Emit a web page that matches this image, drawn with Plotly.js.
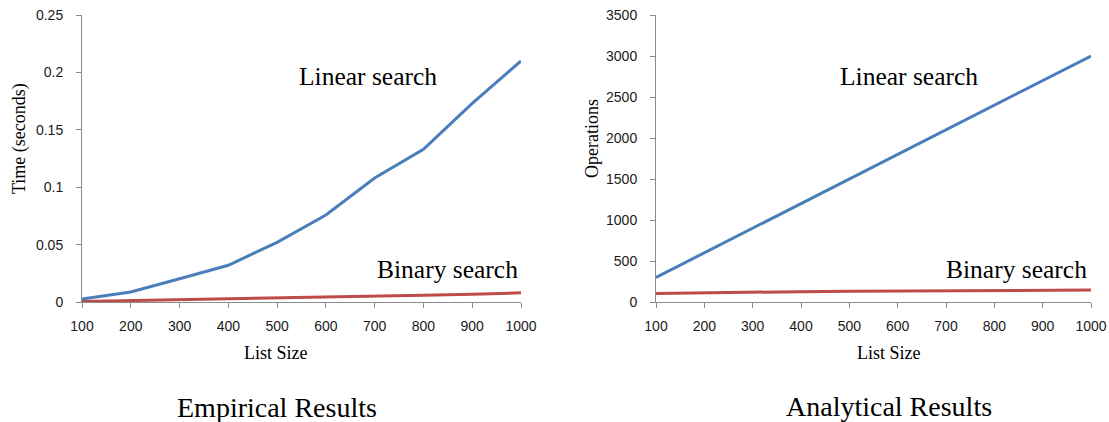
<!DOCTYPE html>
<html>
<head>
<meta charset="utf-8">
<script src="https://cdn.plot.ly/plotly-3.0.1.min.js"></script>
<style>
html,body{margin:0;padding:0;background:#fff;}
#chart{width:1109px;height:422px;}
</style>
</head>
<body>
<div id="chart"></div>
<script>
// Data
const listSizes = [100, 200, 300, 400, 500, 600, 700, 800, 900, 1000];
const empiricalLinear = [0.0026, 0.0087, 0.0203, 0.032, 0.052, 0.0758, 0.108, 0.133, 0.173, 0.21];
const empiricalBinary = [0.0005, 0.0012, 0.0018, 0.0024, 0.0032, 0.004, 0.0048, 0.0058, 0.0068, 0.008];
const analyticalLinear = [300, 600, 900, 1200, 1500, 1800, 2100, 2400, 2700, 3000];
const analyticalBinary = [105, 115, 121, 126, 130, 133, 136, 139, 142, 145];

const blue = '#4a7ebb';
const red = '#be4b48';
const W = 1109, H = 422;
const px = v => v / W;
const py = v => 1 - v / H;

const traces = [
  {x: listSizes, y: empiricalBinary, xaxis: 'x', yaxis: 'y', mode: 'lines', line: {color: red, width: 3}, name: 'Binary search'},
  {x: listSizes, y: empiricalLinear, xaxis: 'x', yaxis: 'y', mode: 'lines', line: {color: blue, width: 3}, name: 'Linear search'},
  {x: listSizes, y: analyticalBinary, xaxis: 'x2', yaxis: 'y2', mode: 'lines', line: {color: red, width: 3}, name: 'Binary search'},
  {x: listSizes, y: analyticalLinear, xaxis: 'x2', yaxis: 'y2', mode: 'lines', line: {color: blue, width: 3}, name: 'Linear search'}
];

const tickFont = {family: 'Liberation Sans, Arial, sans-serif', size: 14, color: '#1a1a1a'};
const axisCommon = {
  showgrid: false, zeroline: false, showline: true, linecolor: '#8c8c8c', linewidth: 1,
  ticks: 'outside', ticklen: 5, tickcolor: '#8c8c8c', tickfont: tickFont, fixedrange: true
};

const serif = 'Liberation Serif, Times New Roman, serif';
const ann = (text, x, y, size, angle) => ({
  text: text, xref: 'paper', yref: 'paper', x: px(x), y: py(y),
  xanchor: 'center', yanchor: 'middle', showarrow: false,
  textangle: angle || 0, font: {family: serif, size: size, color: '#000'}
});

const layout = {
  width: W, height: H,
  margin: {l: 0, r: 0, t: 0, b: 0},
  paper_bgcolor: '#fff', plot_bgcolor: '#fff',
  showlegend: false,
  xaxis: Object.assign({}, axisCommon, {domain: [px(82), px(521)], range: [100, 1000], dtick: 100, tick0: 100, anchor: 'y', ticklabelstandoff: 6}),
  yaxis: Object.assign({}, axisCommon, {domain: [py(302), py(15)], range: [0, 0.25], dtick: 0.05, anchor: 'x', ticklabelstandoff: 10}),
  xaxis2: Object.assign({}, axisCommon, {domain: [px(656), px(1091)], range: [100, 1000], dtick: 100, tick0: 100, anchor: 'y2', ticklabelstandoff: 6}),
  yaxis2: Object.assign({}, axisCommon, {domain: [py(302), py(15)], range: [0, 3500], dtick: 500, anchor: 'x2', ticklabelstandoff: 10}),
  annotations: [
    ann('Linear search', 368, 77, 25.5),
    ann('Binary search', 447, 269, 25.5),
    ann('Linear search', 909, 77, 25.5),
    ann('Binary search', 1016, 269, 25.5),
    ann('List Size', 276, 353, 18),
    ann('List Size', 889, 353, 18),
    ann('Time (seconds)', 19, 139, 18, -90),
    ann('Operations', 592, 139, 18, -90),
    ann('Empirical Results', 277, 407, 28),
    ann('Analytical Results', 889, 406, 28)
  ]
};

Plotly.newPlot('chart', traces, layout, {staticPlot: true, displayModeBar: false});
</script>
</body>
</html>
